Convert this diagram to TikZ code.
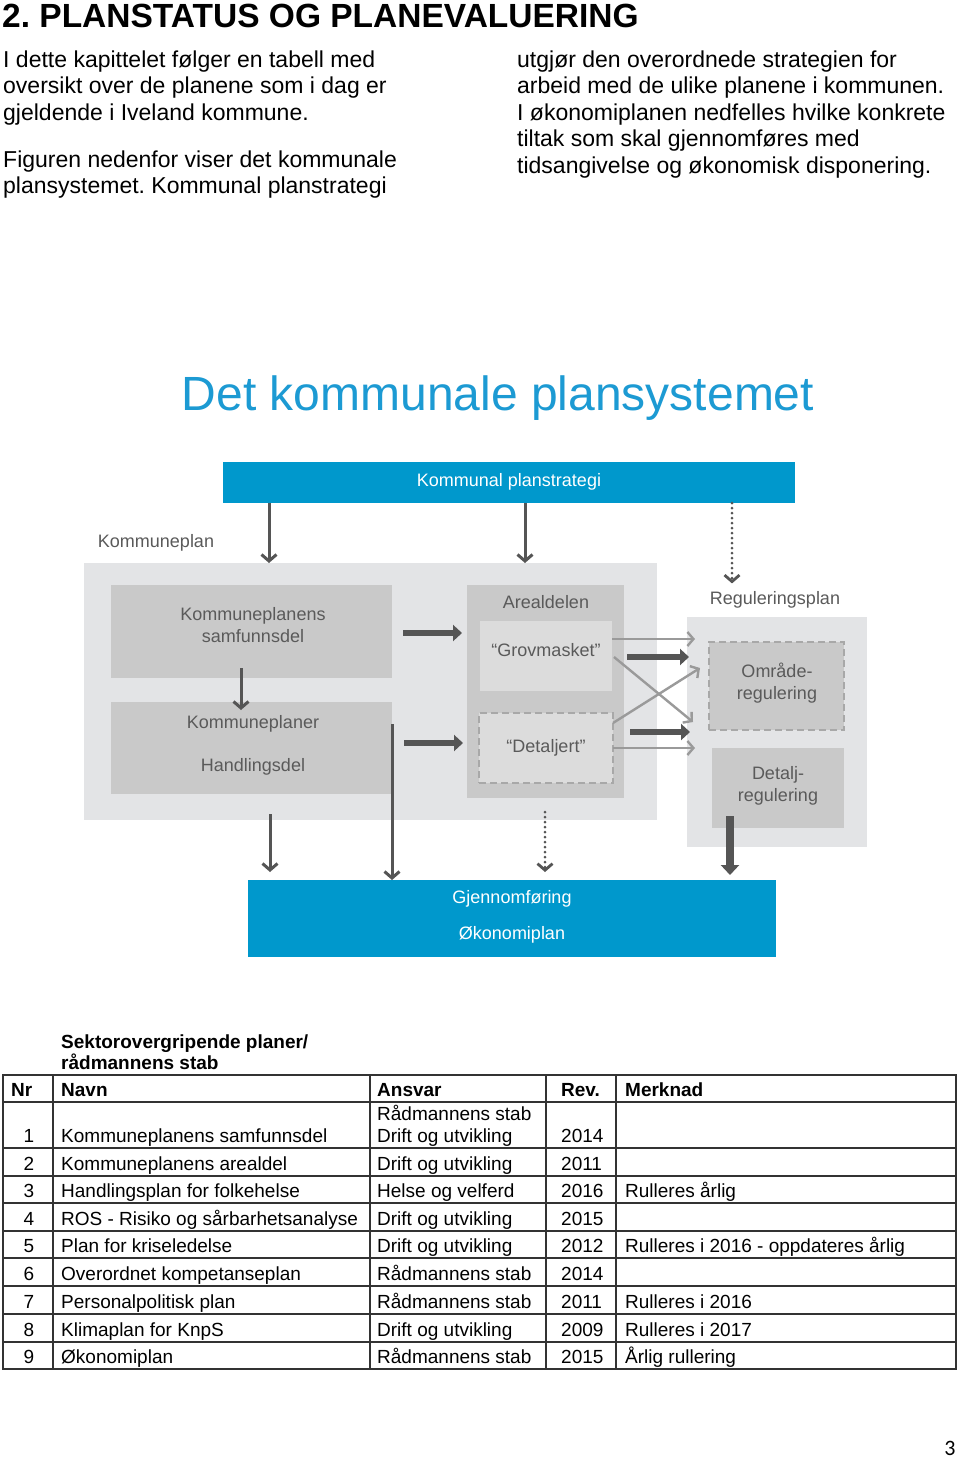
\documentclass[tikz,border=0pt]{standalone}
\usepackage{fontspec}
\setmainfont{Liberation Sans}
\newfontfamily\pagefont{Carlito}
\usetikzlibrary{arrows.meta,calc}
\definecolor{pblue}{HTML}{0098CC}
\definecolor{tblue}{HTML}{1C9AD3}
\definecolor{lgray}{HTML}{E3E4E6}
\definecolor{mgray}{HTML}{C9C9C9}
\definecolor{pgray}{HTML}{DCDCDC}
\definecolor{dgray}{HTML}{555555}
\definecolor{agray}{HTML}{9A9A9A}
\definecolor{dashgray}{HTML}{A8A8A8}
\definecolor{txtgray}{HTML}{5A5A5A}
\definecolor{tabline}{HTML}{333333}
\frenchspacing
\begin{document}
\begin{tikzpicture}[x=1pt,y=-1pt,
  box/.style={inner sep=0pt,outer sep=0pt,draw=none},
  dbox/.style={inner sep=0pt,outer sep=0pt,draw=dashgray,line width=2.2pt,dash pattern=on 7pt off 4pt},
  lbl/.style={inner sep=0pt,text=txtgray,font=\fontsize{18}{21.5}\selectfont,align=center},
  wlbl/.style={inner sep=0pt,text=white,font=\fontsize{18}{21.5}\selectfont,align=center},
  thinarr/.style={draw=dgray,line width=3pt,-{Straight Barb[length=6.5pt,width=15pt]}},
  dotarr/.style={draw=dgray,line width=3pt,line cap=round,dash pattern=on 0pt off 5pt,-{Straight Barb[length=6.5pt,width=15pt,line width=2.8pt]}},
  thickarr/.style={draw=dgray,line width=6.5pt,-{Triangle[length=9pt,width=16pt]}},
  lightarr/.style={draw=agray,line width=2.4pt,-{Straight Barb[length=6pt,width=14pt]}},
  para/.style={inner sep=0pt,anchor=base west,font=\fontsize{23}{26.5}\selectfont},
  tt/.style={inner sep=0pt,anchor=base west,font=\fontsize{19}{22}\selectfont},
  tb/.style={inner sep=0pt,anchor=base west,font=\fontsize{19}{22}\selectfont\bfseries},
  tline/.style={draw=tabline,line width=1.3pt}
]
\useasboundingbox[fill=white] (0,0) rectangle (960,1460);

% ---------- heading and paragraphs ----------
\node[inner sep=0pt,anchor=base west,font=\fontsize{33.5}{38}\selectfont\bfseries] (head) at (2,27) {2. PLANSTATUS OG PLANEVALUERING};
\node[para] (p1) at (3,67) {I dette kapittelet følger en tabell med};
\node[para] (p2) at (3,93.5) {oversikt over de planene som i dag er};
\node[para] (p3) at (3,120) {gjeldende i Iveland kommune.};
\node[para] (p4) at (3,167) {Figuren nedenfor viser det kommunale};
\node[para] (p5) at (3,193.5) {plansystemet. Kommunal planstrategi};
\node[para] (q1) at (517,67) {utgjør den overordnede strategien for};
\node[para] (q2) at (517,93.5) {arbeid med de ulike planene i kommunen.};
\node[para] (q3) at (517,120) {I økonomiplanen nedfelles hvilke konkrete};
\node[para] (q4) at (517,146.5) {tiltak som skal gjennomføres med};
\node[para] (q5) at (517,173) {tidsangivelse og økonomisk disponering.};

% ---------- diagram ----------
\node[inner sep=0pt,text=tblue,font=\fontsize{48}{54}\selectfont] (title) at (498,398) {Det kommunale plansystemet};

\node[box,fill=pblue,minimum width=572pt,minimum height=41pt] (strat) at (509,482.5) {};
\node[wlbl] (tstrat) at (509,482) {Kommunal planstrategi};

\node[lbl] (kplanlbl) at (156,543) {Kommuneplan};
\node[box,fill=lgray,minimum width=573pt,minimum height=257pt] (kplan) at (370.5,691.5) {};
\node[box,fill=mgray,minimum width=281pt,minimum height=93pt] (samf) at (251.5,631.5) {};
\node[lbl] (tsamf) at (253,625) {Kommuneplanens\\samfunnsdel};
\node[box,fill=mgray,minimum width=281pt,minimum height=92pt] (handl) at (251.5,748) {};
\node[lbl] (thandl1) at (253,724) {Kommuneplaner};
\node[lbl] (thandl2) at (253,767) {Handlingsdel};

\node[box,fill=mgray,minimum width=157pt,minimum height=213pt] (areal) at (545.5,691.5) {};
\node[lbl] (tareal) at (546,602) {Arealdelen};
\node[box,fill=pgray,minimum width=132pt,minimum height=70pt] (grov) at (546,656) {};
\node[lbl] (tgrov) at (546,650) {“Grovmasket”};
\node[dbox,fill=pgray,minimum width=134pt,minimum height=70pt] (detal) at (546,748) {};
\node[lbl] (tdetal) at (546,748) {“Detaljert”};

\node[lbl] (reglbl) at (775,600) {Reguleringsplan};
\node[box,fill=lgray,minimum width=180pt,minimum height=230pt] (regbox) at (777,732) {};
\node[dbox,fill=mgray,minimum width=135pt,minimum height=88pt] (omr) at (776.5,686) {};
\node[lbl] (tomr) at (777,683) {Område-\\regulering};
\node[box,fill=mgray,minimum width=132pt,minimum height=80pt] (detreg) at (778,788) {};
\node[lbl] (tdetreg) at (778,786) {Detalj-\\regulering};

\node[box,fill=pblue,minimum width=528pt,minimum height=77pt] (gj) at (512,918.5) {};
\node[wlbl] (tgj1) at (512,899) {Gjennomføring};
\node[wlbl] (tgj2) at (512,935) {Økonomiplan};

% arrows from planstrategi
\draw[thinarr] (strat.south -| 269,0) -- (kplan.north -| 269,0);
\draw[thinarr] (strat.south -| 525,0) -- (kplan.north -| 525,0);
\draw[dotarr] (strat.south -| 732,0) -- ($(reglbl.north -| 732,0)+(0,-8)$);

% inside kommuneplan
\draw[thinarr] ($(samf.south -| 241,0)+(0,-10)$) -- ($(handl.north -| 241,0)+(0,8)$);
\draw[thickarr] ($(samf.east)+(11,1.5)$) -- ($(areal.west |- samf.east)+(-5,1.5)$);
\draw[thickarr] ($(handl.east)+(12,-5)$) -- ($(areal.west |- handl.east)+(-4,-5)$);

% arealdel to regulering
\draw[lightarr] (grov.east |- 0,639) -- ($(regbox.west |- 0,639)+(8,0)$);
\draw[thickarr] ($(grov.east |- 0,657)+(15,0)$) -- ($(regbox.west |- 0,657)+(2,0)$);
\draw[lightarr] ($(grov.east |- 0,657)+(2,0)$) -- ($(regbox.west |- 0,722)+(6,0)$);
\draw[lightarr] ($(detal.east |- 0,723)$) -- ($(regbox.west |- 0,668)+(13,0)$);
\draw[thickarr] ($(detal.east |- 0,732)+(17,0)$) -- ($(regbox.west |- 0,732)+(3,0)$);
\draw[lightarr] (detal.east |- 0,748) -- ($(regbox.west |- 0,748)+(8,0)$);

% to gjennomføring
\draw[thinarr] ($(kplan.south -| 270,0)+(0,-6)$) -- ($(gj.north -| 270,0)+(0,-8)$);
\draw[thinarr] ($(handl.south -| 392,0)+(0,-70)$) -- (gj.north -| 392,0);
\draw[dotarr] ($(areal.south -| 545,0)+(0,14)$) -- ($(gj.north -| 545,0)+(0,-8)$);
\draw[draw=dgray,line width=7.5pt,-{Triangle[length=10pt,width=18pt]}] ($(detreg.south -| 730,0)+(0,-12)$) -- ($(gj.north -| 730,0)+(0,-5)$);

% ---------- table ----------
\node[tb] (sek1) at (61,1048) {Sektorovergripende planer/};
\node[tb] (sek2) at (61,1069) {rådmannens stab};

\draw[tline] (3,1075) rectangle (956,1369);
\foreach \yy in {1102,1148,1176,1203,1231,1258,1286,1314,1342}
  \draw[tline] (3,\yy) -- (956,\yy);
\foreach \xx in {53,370,546,616}
  \draw[tline] (\xx,1075) -- (\xx,1369);

\node[tb] (hnr) at (11,1096) {Nr};
\node[tb] (hnavn) at (61,1096) {Navn};
\node[tb] (hans) at (377,1096) {Ansvar};
\node[tb] (hrev) at (561,1096) {Rev.};
\node[tb] (hmer) at (625,1096) {Merknad};

\node[tt] (ans1a) at (377,1120) {Rådmannens stab};
\foreach \n/\navn/\ans/\rev/\mer/\yy in {
  1/{Kommuneplanens samfunnsdel}/{Drift og utvikling}/2014/{}/1142,
  2/{Kommuneplanens arealdel}/{Drift og utvikling}/2011/{}/1170,
  3/{Handlingsplan for folkehelse}/{Helse og velferd}/2016/{Rulleres årlig}/1197,
  4/{ROS - Risiko og sårbarhetsanalyse}/{Drift og utvikling}/2015/{}/1225,
  5/{Plan for kriseledelse}/{Drift og utvikling}/2012/{Rulleres i 2016 - oppdateres årlig}/1252,
  6/{Overordnet kompetanseplan}/{Rådmannens stab}/2014/{}/1280,
  7/{Personalpolitisk plan}/{Rådmannens stab}/2011/{Rulleres i 2016}/1308,
  8/{Klimaplan for KnpS}/{Drift og utvikling}/2009/{Rulleres i 2017}/1336,
  9/{Økonomiplan}/{Rådmannens stab}/2015/{Årlig rullering}/1363}
{
  \node[tt,anchor=base] (nr\n) at (29,\yy) {\n};
  \node[tt] (navn\n) at (61,\yy) {\navn};
  \node[tt] (ans\n) at (377,\yy) {\ans};
  \node[tt] (rev\n) at (561,\yy) {\rev};
  \node[tt] (mer\n) at (625,\yy) {\mer};
}

\node[inner sep=0pt,font=\pagefont\fontsize{22}{26}\selectfont] (pnum) at (950,1448) {3};
\end{tikzpicture}
\end{document}
